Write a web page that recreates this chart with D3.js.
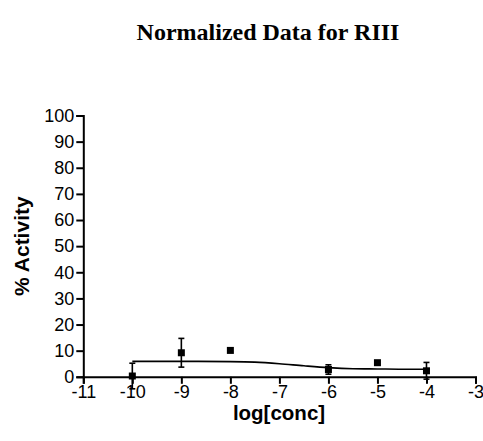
<!DOCTYPE html>
<html>
<head>
<meta charset="utf-8">
<script src="https://cdn.jsdelivr.net/npm/d3@7"></script>
<style>
  html, body { margin: 0; padding: 0; background: #fff; }
  svg { display: block; }
</style>
</head>
<body>
<div id="chart"></div>
<script>
// Measured responses (mean ± error) at each log concentration
const logConc = [-10, -9, -8, -6, -5, -4];
const activity = [0.3, 9.2, 10.1, 2.8, 5.4, 2.3];
const errors = [4.9, 5.5, 0, 1.8, 0, 3.2];

// Fitted dose-response curve, sampled along the x range
const curveX = [-10, -9, -8, -7.5, -7, -6.5, -6, -5.5, -5, -4.5, -4];
const curveY = [5.9, 5.9, 5.8, 5.6, 5.0, 4.2, 3.5, 3.1, 3.0, 2.9, 2.9];

const xTicks = [-11, -10, -9, -8, -7, -6, -5, -4, -3];
const yTicks = [0, 10, 20, 30, 40, 50, 60, 70, 80, 90, 100];

const W = 483, H = 441;
const svg = d3.select("#chart").append("svg")
  .attr("width", W).attr("height", H);

const x = d3.scaleLinear().domain([-11, -3]).range([83.3, 475.5]);
const y = d3.scaleLinear().domain([0, 100]).range([376.8, 115.5]);

svg.append("text")
  .attr("x", 268).attr("y", 40)
  .attr("text-anchor", "middle")
  .style("font-family", "'Liberation Serif', 'Times New Roman', serif")
  .style("font-weight", "bold")
  .style("font-size", "24px")
  .text("Normalized Data for RIII");

const axisFont = "'Liberation Sans', Arial, sans-serif";

const yAxis = svg.append("g")
  .attr("transform", `translate(${x(-11)},0)`)
  .call(d3.axisLeft(y).tickValues(yTicks).tickSize(7).tickPadding(2));

const xAxis = svg.append("g")
  .attr("transform", `translate(0,${y(0)})`)
  .call(d3.axisBottom(x).tickValues(xTicks).tickSize(7).tickPadding(1)
    .tickFormat(d => "-" + Math.abs(d)));

[xAxis, yAxis].forEach(g => {
  g.select(".domain").attr("stroke", "#000").attr("stroke-width", 2);
  g.selectAll(".tick line").attr("stroke", "#000").attr("stroke-width", 2);
  g.selectAll(".tick text")
    .attr("fill", "#000")
    .style("font-family", axisFont)
    .style("font-size", "18px");
});

svg.append("text")
  .attr("transform", `translate(29,${(y(0) + y(100)) / 2}) rotate(-90)`)
  .attr("text-anchor", "middle")
  .style("font-family", axisFont)
  .style("font-weight", "bold")
  .style("font-size", "21px")
  .text("% Activity");

svg.append("text")
  .attr("x", 279).attr("y", 420)
  .attr("text-anchor", "middle")
  .style("font-family", axisFont)
  .style("font-weight", "bold")
  .style("font-size", "20.5px")
  .text("log[conc]");

// Fitted curve
const line = d3.line()
  .x(d => x(d[0])).y(d => y(d[1]))
  .curve(d3.curveMonotoneX);
svg.append("path")
  .datum(curveX.map((v, i) => [v, curveY[i]]))
  .attr("d", line)
  .attr("fill", "none")
  .attr("stroke", "#000")
  .attr("stroke-width", 1.6);

// Error bars
const pts = logConc.map((v, i) => ({ x: v, y: activity[i], e: errors[i] }));
const eb = svg.append("g").selectAll("g").data(pts.filter(d => d.e > 0)).join("g");
eb.append("line")
  .attr("x1", d => x(d.x)).attr("x2", d => x(d.x))
  .attr("y1", d => y(d.y + d.e)).attr("y2", d => y(d.y - d.e))
  .attr("stroke", "#000").attr("stroke-width", 1.6);
[1, -1].forEach(s => {
  eb.append("line")
    .attr("x1", d => x(d.x) - 3).attr("x2", d => x(d.x) + 3)
    .attr("y1", d => y(d.y + s * d.e)).attr("y2", d => y(d.y + s * d.e))
    .attr("stroke", "#000").attr("stroke-width", 1.6);
});

// Data markers
svg.append("g").selectAll("rect").data(pts).join("rect")
  .attr("x", d => x(d.x) - 3.5).attr("y", d => y(d.y) - 3.5)
  .attr("width", 7).attr("height", 7)
  .attr("fill", "#000");
</script>
</body>
</html>
